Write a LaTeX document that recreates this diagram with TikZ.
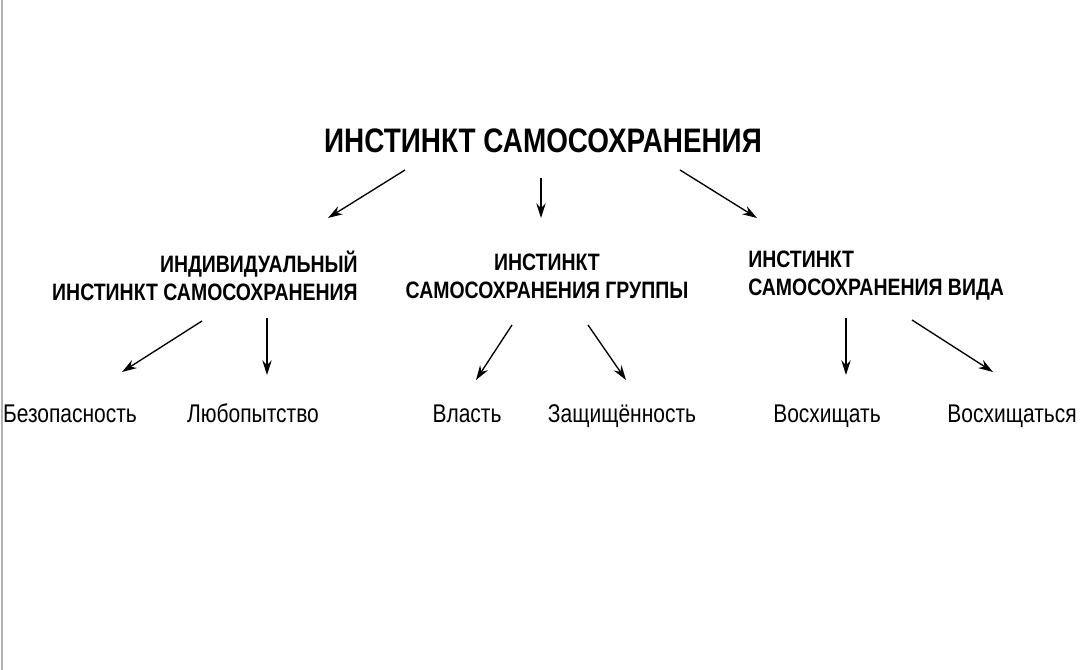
\documentclass[tikz,border=0pt]{standalone}
\usepackage{fontspec}
\setmainfont[FakeStretch=0.82]{Liberation Sans}
\usetikzlibrary{arrows.meta}
\begin{document}
\begin{tikzpicture}[x=0.75pt,y=-0.75pt,
  title/.style={font=\bfseries\fontsize{25.5}{30}\selectfont,inner sep=0},
  mid/.style={font=\bfseries\fontsize{17.8}{21}\selectfont,inner sep=0},
  leaf/.style={font=\fontsize{19.2}{22}\selectfont,inner sep=0,anchor=base},
  arr/.style={-{Stealth[length=11pt,width=7pt]},line width=1pt}]
\useasboundingbox (0,0) rectangle (1080,670);
\fill[white] (0,0) rectangle (1080,670);
\draw[gray!60,line width=1pt] (2,0) -- (2,670);
\node[title] (t) at (543,141) {ИНСТИНКТ САМОСОХРАНЕНИЯ};
\node[mid,anchor=east,align=right] (a) at (358,276) {ИНДИВИДУАЛЬНЫЙ\\ИНСТИНКТ САМОСОХРАНЕНИЯ};
\node[mid,align=center] (b) at (547,276) {ИНСТИНКТ\\САМОСОХРАНЕНИЯ ГРУППЫ};
\node[mid,anchor=west,align=left] (c) at (748,276) {ИНСТИНКТ\\САМОСОХРАНЕНИЯ ВИДА};
\node[leaf] (l1) at (70,422) {Безопасность};
\node[leaf] (l2) at (253,422) {Любопытство};
\node[leaf] (l3) at (467,422) {Власть};
\node[leaf] (l4) at (622,422) {Защищённость};
\node[leaf] (l5) at (827,422) {Восхищать};
\node[leaf] (l6) at (1012,422) {Восхищаться};
\coordinate (s1) at (405,170); \coordinate (e1) at (328,218);
\coordinate (s2) at (541,178); \coordinate (e2) at (541,218);
\coordinate (s3) at (680,170); \coordinate (e3) at (757,218);
\coordinate (s4) at (202,321); \coordinate (e4) at (122,372);
\coordinate (s5) at (267,318); \coordinate (e5) at (267,375);
\coordinate (s6) at (512,325); \coordinate (e6) at (476,380);
\coordinate (s7) at (588,325); \coordinate (e7) at (626,380);
\coordinate (s8) at (846,318); \coordinate (e8) at (846,375);
\coordinate (s9) at (912,320); \coordinate (e9) at (993,372);
\foreach \i in {1,...,9} \draw[arr] (s\i) -- (e\i);
\end{tikzpicture}
\end{document}
